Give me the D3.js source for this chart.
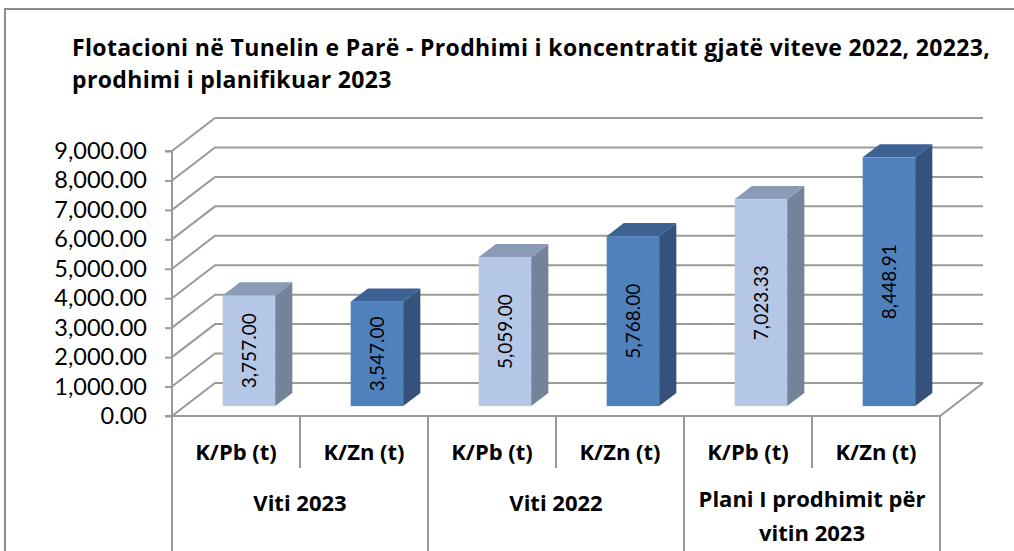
<!DOCTYPE html>
<html>
<head>
<meta charset="utf-8">
<script src="https://d3js.org/d3.v7.min.js"></script>
<style>
  body { margin: 0; background: #fff; }
  svg text { font-family: Lato, "Open Sans", sans-serif; fill: #000; }
  svg text.bold { font-family: "Open Sans", Lato, sans-serif; font-weight: bold; }
</style>
</head>
<body>
<div id="chart"></div>
<script>
// data
const titleLines = ["Flotacioni në Tunelin e Parë - Prodhimi i koncentratit gjatë viteve 2022, 20223,",
                    "prodhimi i planifikuar 2023"];
const categories = ["K/Pb (t)", "K/Zn (t)", "K/Pb (t)", "K/Zn (t)", "K/Pb (t)", "K/Zn (t)"];
const groups = [["Viti 2023"], ["Viti 2022"], ["Plani I prodhimit për", "vitin 2023"]];
const values = [3757.00, 3547.00, 5059.00, 5768.00, 7023.33, 8448.91];
const yTicks = [0, 1000, 2000, 3000, 4000, 5000, 6000, 7000, 8000, 9000];

const W = 1014, H = 551;
const pLeft = 172, pRight = 940, pBottom = 416, pTop = 151;
const depth = {dx: 43, dy: -33};

const svg = d3.select("#chart").append("svg")
    .attr("width", W).attr("height", H);

// outer chart border
svg.append("rect")
    .attr("x", 5).attr("y", 9).attr("width", W + 20).attr("height", H + 20)
    .attr("fill", "none").attr("stroke", "#8c8c8c").attr("stroke-width", 2);

// title
svg.append("g").selectAll("text")
  .data(titleLines)
  .join("text")
    .attr("class", "bold")
    .attr("x", 72)
    .attr("y", (d, i) => 56 + i * 32)
    .style("font-size", "23px")
    .style("letter-spacing", "0.35px")
    .text(d => d);

const x = d3.scaleBand().domain(d3.range(categories.length)).range([pLeft, pRight]).padding(0);
const y = d3.scaleLinear().domain([0, 9000]).range([pBottom, pTop]);

const grid = "#9a9a9a";

// back wall grid lines + left wall diagonals
const g = svg.append("g");
yTicks.forEach(t => {
  const yy = y(t);
  g.append("path")
    .attr("d", `M${pLeft},${yy}L${pLeft + depth.dx},${yy + depth.dy}L${pRight + depth.dx},${yy + depth.dy}`)
    .attr("fill", "none").attr("stroke", grid).attr("stroke-width", 2);
});
// floor
g.append("path")
  .attr("d", `M${pLeft},${pBottom}L${pRight},${pBottom}L${pRight + depth.dx},${pBottom + depth.dy}`)
  .attr("fill", "none").attr("stroke", grid).attr("stroke-width", 2);

// y axis
const yAxis = svg.append("g")
    .attr("transform", `translate(${pLeft},0)`)
    .call(d3.axisLeft(y).tickValues(yTicks).tickSize(7).tickPadding(18)
          .tickFormat(d3.format(",.2f")));
yAxis.selectAll("path,line").attr("stroke", grid).attr("stroke-width", 2);
yAxis.select(".domain").attr("d", `M-7,${pTop}H0V${pBottom}H-7`);
yAxis.selectAll("text").style("font-size", "23.5px").attr("font-family", null);

// bars
const f0 = 0.3, f1 = 0.7;
const bw = x.bandwidth() * 0.41;
const colors = [
  {front: "#b4c7e7", side: "#748398", top: "#8b9bb5"},
  {front: "#4f81bd", side: "#34527c", top: "#3c6294"}
];
const bars = svg.append("g").selectAll("g")
  .data(values)
  .join("g");

bars.each(function(v, i) {
  const c = colors[i % 2];
  const cx = x(i) + x.bandwidth() / 2;
  const x0 = cx - bw / 2 + depth.dx * f0, x1 = cx + bw / 2 + depth.dx * f0;
  const yb = y(0) + depth.dy * f0, yt = y(v) + depth.dy * f0;
  const ddx = depth.dx * (f1 - f0), ddy = depth.dy * (f1 - f0);
  const s = d3.select(this);
  s.append("path")
    .attr("d", `M${x1},${yb}L${x1 + ddx},${yb + ddy}L${x1 + ddx},${yt + ddy}L${x1},${yt}Z`)
    .attr("fill", c.side);
  s.append("path")
    .attr("d", `M${x0},${yt}L${x0 + ddx},${yt + ddy}L${x1 + ddx},${yt + ddy}L${x1},${yt}Z`)
    .attr("fill", c.top);
  s.append("rect")
    .attr("x", x0).attr("y", yt).attr("width", bw).attr("height", yb - yt)
    .attr("fill", c.front);
  s.append("text")
    .attr("transform", `translate(${(x0 + x1) / 2},${(yt + yb) / 2}) rotate(-90)`)
    .attr("text-anchor", "middle")
    .attr("dy", "0.35em")
    .style("font-size", "19px")
    .text(d3.format(",.2f")(v));
});

// category axis
const ax = svg.append("g");
ax.append("line").attr("x1", pLeft).attr("x2", pRight).attr("y1", pBottom).attr("y2", pBottom)
  .attr("stroke", grid).attr("stroke-width", 2);
d3.range(categories.length + 1).forEach(i => {
  const xx = i < categories.length ? x(i) : pRight;
  ax.append("line")
    .attr("x1", xx).attr("x2", xx)
    .attr("y1", pBottom).attr("y2", i % 2 === 0 ? H + 5 : 468)
    .attr("stroke", grid).attr("stroke-width", 2);
});
ax.selectAll("text.cat")
  .data(categories)
  .join("text")
    .attr("class", "cat bold")
    .attr("x", (d, i) => x(i) + x.bandwidth() / 2)
    .attr("y", 460)
    .attr("text-anchor", "middle")
    .style("font-size", "22px")
    .text(d => d);

groups.forEach((lines, gi) => {
  const cx = x(gi * 2) + x.bandwidth();
  lines.forEach((ln, li) => {
    ax.append("text")
      .attr("class", "bold")
      .attr("x", cx)
      .attr("y", (lines.length > 1 ? 507 : 511) + li * 34)
      .attr("text-anchor", "middle")
      .style("font-size", "22px")
      .text(ln);
  });
});
</script>
</body>
</html>
